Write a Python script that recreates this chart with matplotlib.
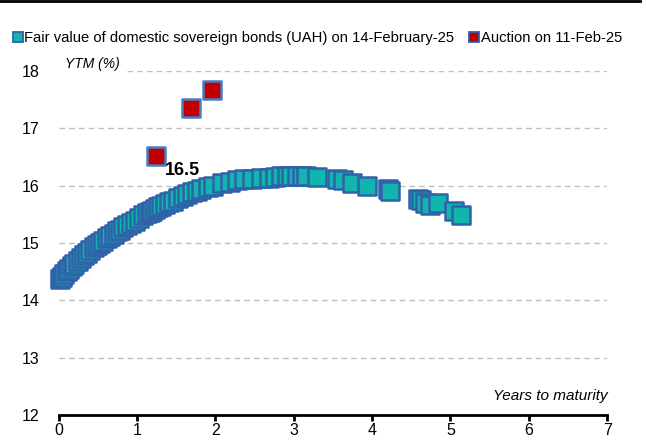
import numpy as np
import matplotlib
matplotlib.use("Agg")
import matplotlib.pyplot as plt
from matplotlib.lines import Line2D

plt.rcParams['font.family'] = ['Liberation Sans Narrow', 'Liberation Sans', 'DejaVu Sans']

# fair value curve (years to maturity, YTM %)
fair_x = [0.01, 0.04, 0.07, 0.10, 0.13, 0.17, 0.20, 0.24, 0.28, 0.32,
          0.36, 0.40, 0.45, 0.49, 0.53, 0.57, 0.61, 0.65, 0.70, 0.74,
          0.78, 0.82, 0.87, 0.92, 0.97, 1.03, 1.08, 1.13, 1.16, 1.19,
          1.23, 1.27, 1.31, 1.36, 1.41, 1.46, 1.52, 1.58, 1.64, 1.70,
          1.76, 1.82, 1.90, 1.97, 2.08, 2.18, 2.28, 2.37, 2.47, 2.58,
          2.68, 2.76, 2.84, 2.91, 2.97, 3.04, 3.10, 3.16, 3.30, 3.55,
          3.63, 3.74, 3.94, 4.20, 4.23, 4.59, 4.63, 4.68, 4.74, 4.84,
          5.05, 5.14]
fair_y = [14.37, 14.41, 14.46, 14.51, 14.55, 14.60, 14.64, 14.69, 14.74, 14.79,
          14.83, 14.87, 14.92, 14.96, 15.00, 15.04, 15.08, 15.12, 15.16, 15.20,
          15.23, 15.27, 15.31, 15.35, 15.39, 15.44, 15.48, 15.52, 15.54, 15.56,
          15.59, 15.62, 15.65, 15.68, 15.71, 15.74, 15.78, 15.81, 15.85, 15.88,
          15.91, 15.94, 15.97, 16.00, 16.04, 16.07, 16.09, 16.11, 16.12, 16.13,
          16.14, 16.15, 16.16, 16.16, 16.16, 16.16, 16.16, 16.16, 16.15, 16.12,
          16.10, 16.05, 16.00, 15.94, 15.91, 15.76, 15.75, 15.70, 15.67, 15.69,
          15.56, 15.48]

# auction results
auc_x = [1.24, 1.69, 1.96]
auc_y = [16.52, 17.35, 17.67]
auc_label = "16.5"

fair_name = "Fair value of domestic sovereign bonds (UAH) on 14-February-25"
auc_name = "Auction on 11-Feb-25"

teal = "#12B5AE"
edge = "#2F62A8"
red = "#C00000"

fig = plt.figure(figsize=(6.46, 4.41), dpi=100)
ax = fig.add_axes([0.0909, 0.0594, 0.849, 0.7796])

ax.scatter(fair_x, fair_y, marker='s', s=175, c=teal, edgecolors=edge,
           linewidths=1.8, zorder=3, clip_on=False)
ax.scatter(auc_x, auc_y, marker='s', s=175, c=red, edgecolors="#4A7CC0",
           linewidths=1.8, zorder=4, clip_on=False)
ax.text(auc_x[0] + 0.11, auc_y[0] - 0.11, auc_label, fontsize=13,
        fontweight='bold', ha='left', va='top', zorder=5)

ax.set_xlim(0, 7)
ax.set_ylim(12, 18)
ax.set_xticks(range(8))
ax.set_yticks(range(12, 19))
ax.yaxis.grid(True, linestyle=(0, (4, 3)), color='#BFBFBF', linewidth=1)
ax.set_axisbelow(True)
for s in ['top', 'right', 'left']:
    ax.spines[s].set_visible(False)
ax.spines['bottom'].set_linewidth(2)
ax.tick_params(axis='x', direction='out', length=4, width=2, labelsize=11.5, pad=2)
ax.tick_params(axis='y', length=0, labelsize=11.5, pad=14)

ax.text(0.08, 18.0, "YTM (%)", fontsize=10, style='italic', ha='left',
        va='bottom', backgroundcolor='white', zorder=2)
ax.text(7, 12.2, "Years to maturity", fontsize=11, style='italic',
        ha='right', va='bottom')

handles = [Line2D([], [], marker='s', linestyle='none', markersize=7,
                  markerfacecolor=teal, markeredgecolor=edge, markeredgewidth=1.3),
           Line2D([], [], marker='s', linestyle='none', markersize=7,
                  markerfacecolor=red, markeredgecolor=edge, markeredgewidth=1.3)]
fig.legend(handles, [fair_name, auc_name], loc='center left',
           bbox_to_anchor=(0.008, 0.914), ncol=2, frameon=False, fontsize=10.6,
           handletextpad=0.0, columnspacing=0.9, handlelength=0.9,
           borderaxespad=0)

fig.add_artist(Line2D([0, 0.99], [0.997, 0.997], color='black', linewidth=2,
                      transform=fig.transFigure))

fig.savefig("out.png", dpi=100)
